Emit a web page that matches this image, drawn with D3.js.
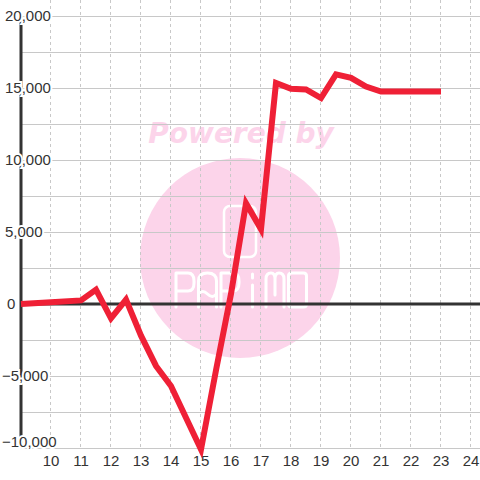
<!DOCTYPE html>
<html>
<head>
<meta charset="utf-8">
<script src="https://cdn.jsdelivr.net/npm/d3@7"></script>
<style>
  body { margin: 0; background: #fff; }
  svg { display: block; }
  .tick-label { font-family: "Liberation Sans", Arial, sans-serif; font-size: 15px; fill: #333; }
</style>
</head>
<body>
<div id="chart"></div>
<script>
// hours (half-hour steps) and running value
var hours = [9, 10, 11, 11.5, 12, 12.5, 13, 13.5, 14, 14.5, 15, 15.5, 16, 16.5,
    17, 17.5, 18, 18.5, 19, 19.5, 20, 20.5, 21, 21.5, 22, 22.5, 23];
var values = [0, 120, 250, 1000, -1000, 300, -2200, -4300, -5700, -7900, -10100, -4600, 700, 7000,
    5200, 15350, 14950, 14900, 14300, 15950, 15700, 15100, 14750, 14750, 14750, 14750, 14750];

var xTicks = [10, 11, 12, 13, 14, 15, 16, 17, 18, 19, 20, 21, 22, 23, 24];
var yTicks = [-10000, -5000, 0, 5000, 10000, 15000, 20000];
var yGrid = d3.range(-10000, 20001, 2500);

var W = 480, H = 480;
var x = d3.scaleLinear().domain([9, 24]).range([21, 471]);
var y = d3.scaleLinear().domain([-10000, 20000]).range([448, 16]);

var svg = d3.select("#chart").append("svg")
    .attr("width", W)
    .attr("height", H);

svg.append("rect").attr("width", W).attr("height", H).attr("fill", "#fff");

// watermark
var wm = svg.append("g").attr("class", "watermark");
wm.append("text")
    .attr("x", 241).attr("y", 143)
    .attr("text-anchor", "middle")
    .style("font-family", "DejaVu Sans")
    .style("font-weight", "bold")
    .style("font-style", "italic")
    .style("font-size", "28px")
    .attr("fill", "#fcd4ea")
    .text("Powered by");
wm.append("circle")
    .attr("cx", 240).attr("cy", 258).attr("r", 100)
    .attr("fill", "#fcd4ea");
wm.append("rect")
    .attr("x", 224).attr("y", 206).attr("width", 32).attr("height", 51)
    .attr("rx", 6)
    .attr("fill", "none").attr("stroke", "#fff").attr("stroke-width", 2.5);

var letters = [
    "M0,34 V0 H12 Q18,0 18,8 V10 Q18,18 12,18 H0",
    "M0,34 V8 Q0,0 9,0 Q18,0 18,8 V34 M0,21 Q4,16 9,21 Q14,26 18,21",
    "M0,34 V0 H12 Q18,0 18,8 V10 Q18,18 12,18 H0",
    "M9,12 V34 M9,1 V5",
    "M0,34 V6 Q0,0 5,0 Q9,0 9,6 V22 M9,6 Q9,0 13,0 Q18,0 18,6 V34",
    "M3,0 H15 Q18,0 18,3 V31 Q18,34 15,34 H3 Q0,34 0,31 V3 Q0,0 3,0 Z"
];
wm.selectAll("path.letter")
    .data(letters)
    .enter().append("path")
    .attr("class", "letter")
    .attr("transform", function (d, i) { return "translate(" + (176 + i * 22.5) + ",273)"; })
    .attr("d", function (d) { return d; })
    .attr("fill", "none")
    .attr("stroke", "#fff")
    .attr("stroke-width", 3)
    .attr("stroke-linecap", "round")
    .attr("stroke-linejoin", "round");

// grid
svg.append("g").selectAll("line")
    .data(yGrid)
    .enter().append("line")
    .attr("x1", 21).attr("x2", W)
    .attr("y1", function (d) { return y(d) + 0.5; })
    .attr("y2", function (d) { return y(d) + 0.5; })
    .attr("stroke", "#c8c8c8")
    .attr("stroke-width", 1);

svg.append("g").selectAll("line")
    .data(xTicks)
    .enter().append("line")
    .attr("x1", function (d) { return Math.round(x(d)) - 0.5; })
    .attr("x2", function (d) { return Math.round(x(d)) - 0.5; })
    .attr("y1", 0).attr("y2", y(-10000))
    .attr("stroke", "#c8c8c8")
    .attr("stroke-width", 1)
    .attr("stroke-dasharray", "3,3");

// zero line and y axis
svg.append("line")
    .attr("x1", 21).attr("x2", W)
    .attr("y1", y(0)).attr("y2", y(0))
    .attr("stroke", "#333").attr("stroke-width", 3);
svg.append("line")
    .attr("x1", 21).attr("x2", 21)
    .attr("y1", y(20000)).attr("y2", y(-10000))
    .attr("stroke", "#333").attr("stroke-width", 3);

// y labels
svg.append("g").selectAll("text")
    .data(yTicks)
    .enter().append("text")
    .attr("class", "tick-label")
    .attr("x", function (d) { return d < 0 ? 2 : (d === 0 ? 7 : 5); })
    .attr("y", function (d) { return Math.min(y(d), 442); })
    .attr("dy", "0.35em")
    .attr("stroke", "#fff")
    .attr("stroke-width", 4)
    .attr("paint-order", "stroke")
    .text(d3.format(","));

// line
var line = d3.line()
    .x(function (d, i) { return x(hours[i]); })
    .y(function (d) { return y(d); });

svg.append("path")
    .datum(values)
    .attr("d", line)
    .attr("fill", "none")
    .attr("stroke", "#ef2036")
    .attr("stroke-width", 6);

// x labels
svg.append("g").selectAll("text")
    .data(xTicks)
    .enter().append("text")
    .attr("class", "tick-label")
    .attr("x", function (d) { return x(d); })
    .attr("y", 461)
    .attr("dy", "0.35em")
    .attr("text-anchor", "middle")
    .text(function (d) { return d; });
</script>
</body>
</html>
